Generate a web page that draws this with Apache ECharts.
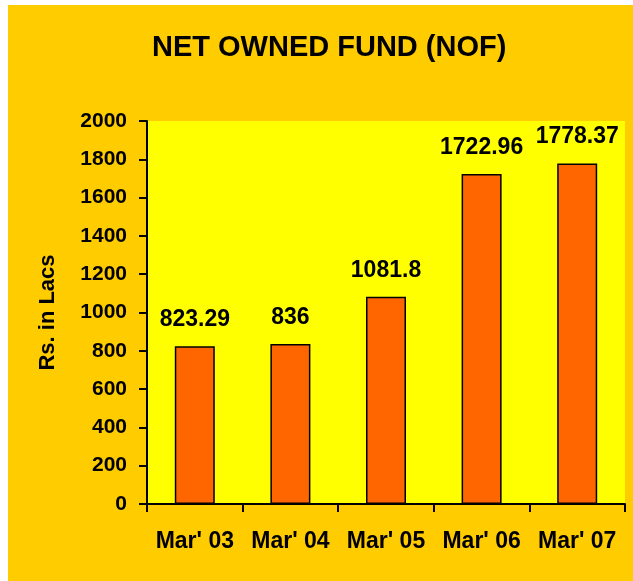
<!DOCTYPE html>
<html>
<head>
<meta charset="utf-8">
<script src="https://cdn.jsdelivr.net/npm/echarts@6/dist/echarts.min.js"></script>
<style>
html,body{margin:0;padding:0;background:#fff;}
#chart{width:633px;height:581px;}
</style>
</head>
<body>
<div id="chart"></div>
<script>
var titleText = "NET OWNED FUND (NOF)";
var categories = ["Mar' 03", "Mar' 04", "Mar' 05", "Mar' 06", "Mar' 07"];
var values = [823.29, 836, 1081.8, 1722.96, 1778.37];
var yAxisName = "Rs. in Lacs";
var yMin = 0, yMax = 2000, yStep = 200;

var chart = echarts.init(document.getElementById('chart'), null, {renderer: 'canvas'});
var font = 'Liberation Sans, Arial, sans-serif';
chart.setOption({
  backgroundColor: '#FFFFFF',
  animation: false,
  graphic: [{
    type: 'rect', z: -10, silent: true,
    shape: {x: 8, y: 5, width: 625, height: 576},
    style: {fill: '#FFCC00'}
  }],
  title: {
    text: titleText, left: 147, top: 28,
    textStyle: {fontFamily: font, fontWeight: 'bold', fontSize: 29, color: '#000'}
  },
  grid: {
    left: 147, right: 8, top: 121, bottom: 77,
    show: true, backgroundColor: '#FFFF00', borderWidth: 0
  },
  xAxis: {
    type: 'category', data: categories,
    axisLine: {lineStyle: {color: '#000', width: 2}},
    axisTick: {show: true, length: 8, interval: 0, lineStyle: {color: '#000', width: 2}},
    axisLabel: {margin: 26, interval: 0, fontFamily: font, fontWeight: 'bold', fontSize: 23, color: '#000'},
    splitLine: {show: false}
  },
  yAxis: {
    type: 'value', min: yMin, max: yMax, interval: yStep,
    name: yAxisName, nameLocation: 'middle', nameGap: 88, nameRotate: 90,
    nameTextStyle: {fontFamily: font, fontWeight: 'bold', fontSize: 22, color: '#000'},
    axisLine: {show: true, lineStyle: {color: '#000', width: 2}},
    axisTick: {show: true, length: 8, lineStyle: {color: '#000', width: 2}},
    axisLabel: {margin: 20, fontFamily: font, fontWeight: 'bold', fontSize: 21, color: '#000',
      formatter: function (v) { return String(v); }},
    splitLine: {show: false}
  },
  series: [{
    type: 'bar', data: values, barWidth: 40,
    itemStyle: {color: '#FF6600', borderColor: '#000', borderWidth: 1.5},
    label: {
      show: true, position: 'top', distance: 15,
      fontFamily: font, fontWeight: 'bold', fontSize: 23, color: '#000'
    }
  }]
});
</script>
</body>
</html>
